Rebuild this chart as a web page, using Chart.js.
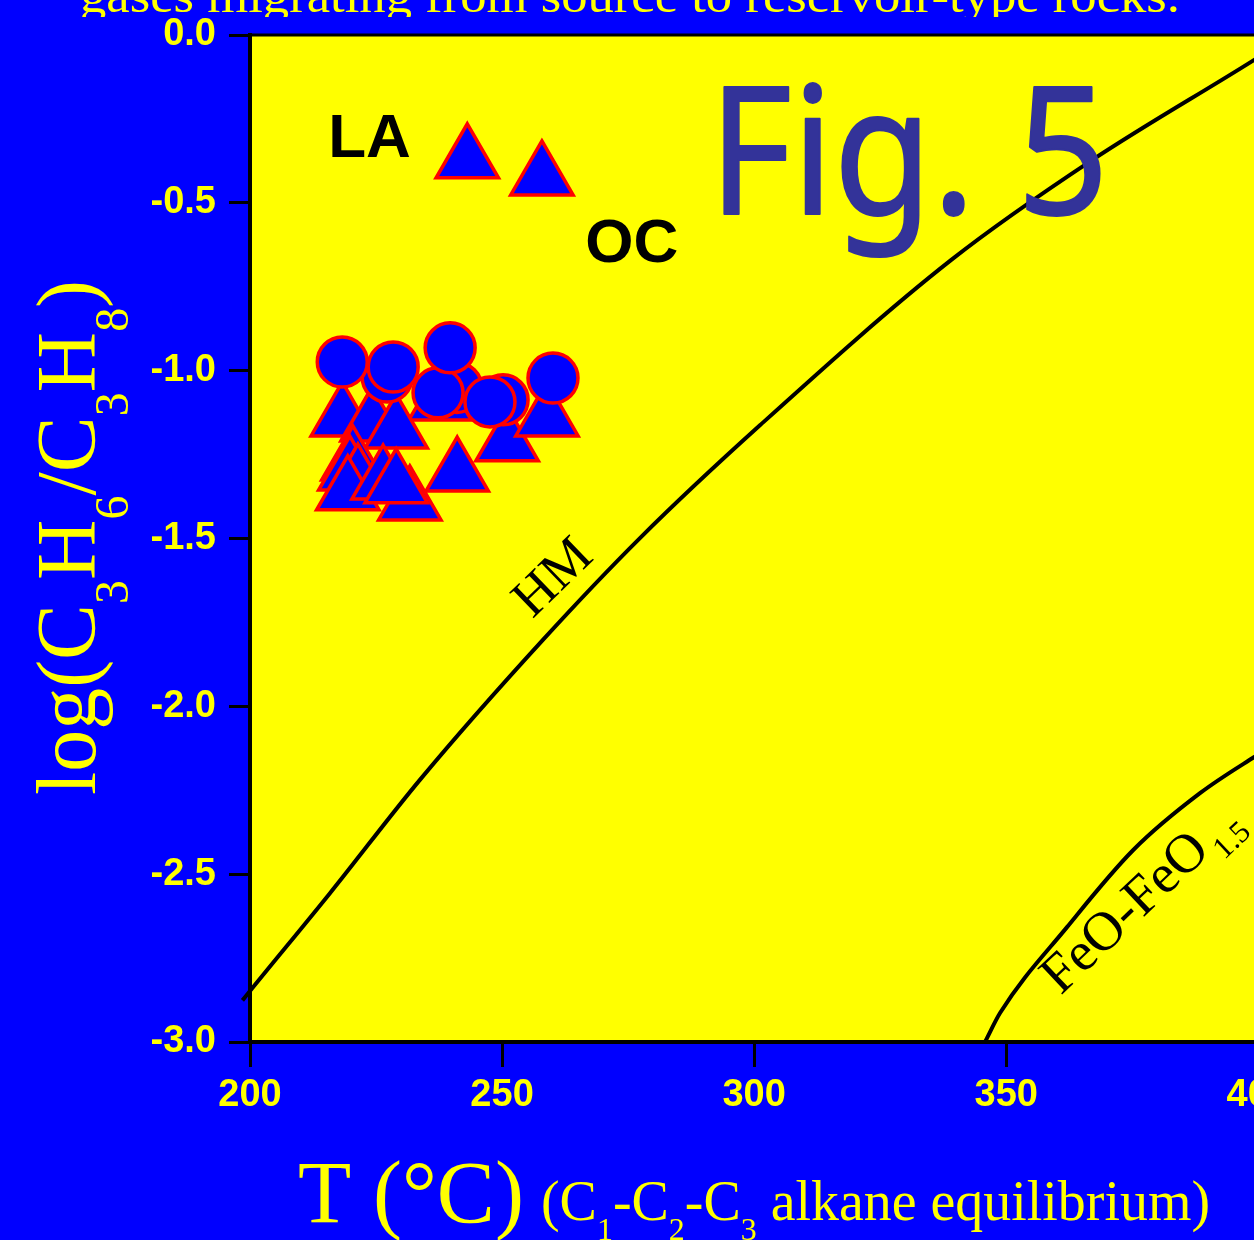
<!DOCTYPE html>
<html><head><meta charset="utf-8">
<script src="https://cdn.jsdelivr.net/npm/chart.js@4.4.1/dist/chart.umd.min.js"></script>
<style>
html,body{margin:0;padding:0;background:#0000ff;overflow:hidden;width:1254px;height:1240px}
#wrap{position:absolute;left:0;top:0;width:1300px;height:1240px}
</style>
</head><body><div id="wrap"><canvas id="c" width="1300" height="1240"></canvas></div>
<script>
// ---- tick values / labels ----
const xTickValues = [200, 250, 300, 350, 400];
const xTickLabels = ['200', '250', '300', '350', '400'];
const yTickValues = [-3, -2.5, -2, -1.5, -1, -0.5, 0];
const yTickLabels = ['-3.0', '-2.5', '-2.0', '-1.5', '-1.0', '-0.5', '0.0'];

// ---- samples: triangles (T in °C, log(C3H6/C3H8)) ----
const triangleT    = [243.1, 257.9, 237.7, 218.3, 224.2, 229.0, 251.0, 258.9, 241.1, 220.4, 219.8, 221.4, 219.4, 231.7, 226.4, 229.0];
const triangleLogR = [-0.372, -0.423, -1.093, -1.141, -1.156, -1.177, -1.215, -1.141, -1.305, -1.272, -1.302, -1.326, -1.361, -1.391, -1.329, -1.340];

// ---- samples: circles ----
const circleT    = [241.0, 237.3, 239.7, 250.2, 247.6, 227.2, 228.4, 218.3, 260.1];
const circleLogR = [-1.050, -1.066, -0.932, -1.087, -1.093, -1.019, -0.989, -0.974, -1.022];

// ---- buffer curves ----
const hmT    = [198.5, 200.0, 215.9, 233.7, 258.1, 277.4, 301.2, 339.1, 367.1, 399.2, 410.0];
const hmLogR = [-2.876, -2.848, -2.556, -2.219, -1.802, -1.498, -1.162, -0.670, -0.372, -0.074, 0.030];
const feoT    = [345.8, 348.8, 362.1, 375.2, 388.5, 399.2, 408.0];
const feoLogR = [-3.000, -2.913, -2.657, -2.428, -2.258, -2.151, -2.070];

const pts = (xs, ys) => xs.map((x, i) => ({x: x, y: ys[i]}));

const YEL = '#ffff00', BLUE = '#0000ff';
const SERIF = '"Liberation Serif","Times New Roman",serif';
const SANS = '"Liberation Sans",Arial,sans-serif';

function runsWidth(ctx, runs) {
  let w = 0;
  for (const r of runs) { ctx.font = r.f; w += ctx.measureText(r.t).width + (r.gap || 0); }
  return w;
}
function drawRuns(ctx, runs, x, y, targetW) {
  ctx.save();
  ctx.translate(x, y);
  if (targetW) { const w = runsWidth(ctx, runs); ctx.scale(targetW / w, 1); }
  let cx = 0;
  ctx.textBaseline = 'alphabetic';
  ctx.textAlign = 'left';
  for (const r of runs) {
    ctx.font = r.f;
    cx += (r.gap || 0);
    ctx.fillText(r.t, cx, r.dy || 0);
    cx += ctx.measureText(r.t).width;
  }
  ctx.restore();
}

const deco = {
  id: 'deco',
  beforeDraw(chart) {
    const {ctx, chartArea: a} = chart;
    ctx.save();
    ctx.fillStyle = BLUE; ctx.fillRect(0, 0, chart.width, chart.height);
    ctx.fillStyle = YEL; ctx.fillRect(a.left, a.top, a.right - a.left, a.bottom - a.top);
    ctx.restore();
  },
  afterDatasetsDraw(chart) {
    const {ctx, chartArea: a, scales} = chart;
    const X = v => scales.x.getPixelForValue(v), Y = v => scales.y.getPixelForValue(v);
    ctx.save();
    // top frame line
    ctx.strokeStyle = '#000'; ctx.lineWidth = 3;
    ctx.beginPath(); ctx.moveTo(a.left - 2, a.top); ctx.lineTo(a.right, a.top); ctx.stroke();

    // group labels
    ctx.fillStyle = '#000';
    ctx.font = 'bold 62px ' + SANS; ctx.textAlign = 'left'; ctx.textBaseline = 'alphabetic';
    ctx.fillText('LA', X(215.5), Y(-0.363));
    ctx.fillText('OC', X(266.5), Y(-0.676));

    // HM label
    ctx.save();
    ctx.translate(X(260.3), Y(-1.620));
    ctx.rotate(-44 * Math.PI / 180);
    ctx.font = '54px ' + SERIF; ctx.textAlign = 'center'; ctx.textBaseline = 'middle';
    ctx.fillText('HM', 0, 0);
    ctx.restore();

    // FeO-FeO1.5 label
    ctx.save();
    ctx.translate(X(360.8), Y(-2.862));
    ctx.rotate(-43.4 * Math.PI / 180);
    drawRuns(ctx, [
      {t: 'FeO-FeO', f: '55px ' + SERIF},
      {t: '1.5', f: '31px ' + SERIF, dy: 14, gap: 4}
    ], 0, 0);
    ctx.restore();

    // Fig. 5
    ctx.save();
    ctx.fillStyle = '#333399'; ctx.strokeStyle = '#333399';
    ctx.lineWidth = 2; ctx.lineJoin = 'round';
    ctx.font = '178px "Comic Sans MS","Noto Sans",sans-serif';
    const fw = ctx.measureText('Fig. 5').width;
    ctx.translate(X(291.0), Y(-0.533));
    ctx.scale(400 / fw, 1);
    ctx.textAlign = 'left'; ctx.textBaseline = 'alphabetic';
    ctx.fillText('Fig. 5', 0, 0);
    ctx.strokeText('Fig. 5', 0, 0);
    ctx.restore();
    ctx.restore();
  },
  afterDraw(chart) {
    const {ctx} = chart;
    ctx.save();
    ctx.fillStyle = YEL;
    // cut-off title at top
    ctx.save();
    ctx.beginPath(); ctx.rect(0, 0, chart.width, 17); ctx.clip();
    drawRuns(ctx, [{t: 'gases migrating from source to reservoir-type rocks.', f: '48px ' + SERIF}], 80, 12, 1100);
    ctx.restore();

    // x-axis title
    drawRuns(ctx, [{t: 'T (°C)', f: '88px ' + SERIF}], 298, 1222, 226);
    const sm = '56px ' + SERIF, sb = '32px ' + SERIF;
    drawRuns(ctx, [
      {t: '(C', f: sm}, {t: '1', f: sb, dy: 20},
      {t: '-C', f: sm}, {t: '2', f: sb, dy: 20},
      {t: '-C', f: sm}, {t: '3', f: sb, dy: 20},
      {t: ' alkane equilibrium)', f: sm}
    ], 541, 1220, 669);

    // y-axis title
    ctx.save();
    ctx.translate(95, 795);
    ctx.rotate(-Math.PI / 2);
    const bg = '84px ' + SERIF, ss = '48px ' + SERIF;
    drawRuns(ctx, [
      {t: 'log(C', f: bg}, {t: '3', f: ss, dy: 33},
      {t: 'H', f: bg}, {t: '6', f: ss, dy: 33},
      {t: '/C', f: bg}, {t: '3', f: ss, dy: 33},
      {t: 'H', f: bg}, {t: '8', f: ss, dy: 33},
      {t: ')', f: bg}
    ], 0, 0, 515);
    ctx.restore();
    ctx.restore();
  }
};

const tickFont = {family: SANS, size: 38, weight: 'bold', lineHeight: 1.0};

new Chart(document.getElementById('c'), {
  type: 'scatter',
  data: {
    datasets: [
      {label: 'circles', data: pts(circleT, circleLogR), pointStyle: 'circle', pointRadius: 25,
       pointBackgroundColor: BLUE, pointBorderColor: '#ff0000', pointBorderWidth: 3.5, order: 0},
      {label: 'triangles', data: pts(triangleT, triangleLogR), pointStyle: 'triangle', pointRadius: 36,
       pointBackgroundColor: BLUE, pointBorderColor: '#ff0000', pointBorderWidth: 3.5, order: 1},
      {label: 'HM', data: pts(hmT, hmLogR), showLine: true, pointRadius: 0, borderColor: '#000',
       borderWidth: 4, cubicInterpolationMode: 'monotone', fill: false, order: 2, clip: false},
      {label: 'FeO-FeO1.5', data: pts(feoT, feoLogR), showLine: true, pointRadius: 0, borderColor: '#000',
       borderWidth: 4, cubicInterpolationMode: 'monotone', fill: false, order: 3}
    ]
  },
  options: {
    responsive: false,
    animation: false,
    devicePixelRatio: 1,
    layout: {autoPadding: false, padding: {left: 0, top: 35, right: 40, bottom: 0}},
    plugins: {legend: {display: false}, tooltip: {enabled: false}, title: {display: false}},
    scales: {
      x: {
        type: 'linear', min: 200, max: 400,
        afterBuildTicks: s => { s.ticks = xTickValues.map(v => ({value: v})); },
        afterFit: s => { s.height = 198; },
        ticks: {color: YEL, font: tickFont, padding: 10, maxRotation: 0,
                callback: (v, i) => xTickLabels[i]},
        grid: {drawOnChartArea: false, drawTicks: true, tickLength: 25, tickWidth: 3, tickColor: '#000'},
        border: {display: true, color: '#000', width: 4}
      },
      y: {
        type: 'linear', min: -3, max: 0,
        afterBuildTicks: s => { s.ticks = yTickValues.map(v => ({value: v})); },
        afterFit: s => { s.width = 250; },
        ticks: {color: YEL, font: tickFont, padding: 13,
                callback: (v, i) => yTickLabels[i]},
        grid: {drawOnChartArea: false, drawTicks: true, tickLength: 21, tickWidth: 3, tickColor: '#000'},
        border: {display: true, color: '#000', width: 4}
      }
    }
  },
  plugins: [deco]
});
</script></body></html>
